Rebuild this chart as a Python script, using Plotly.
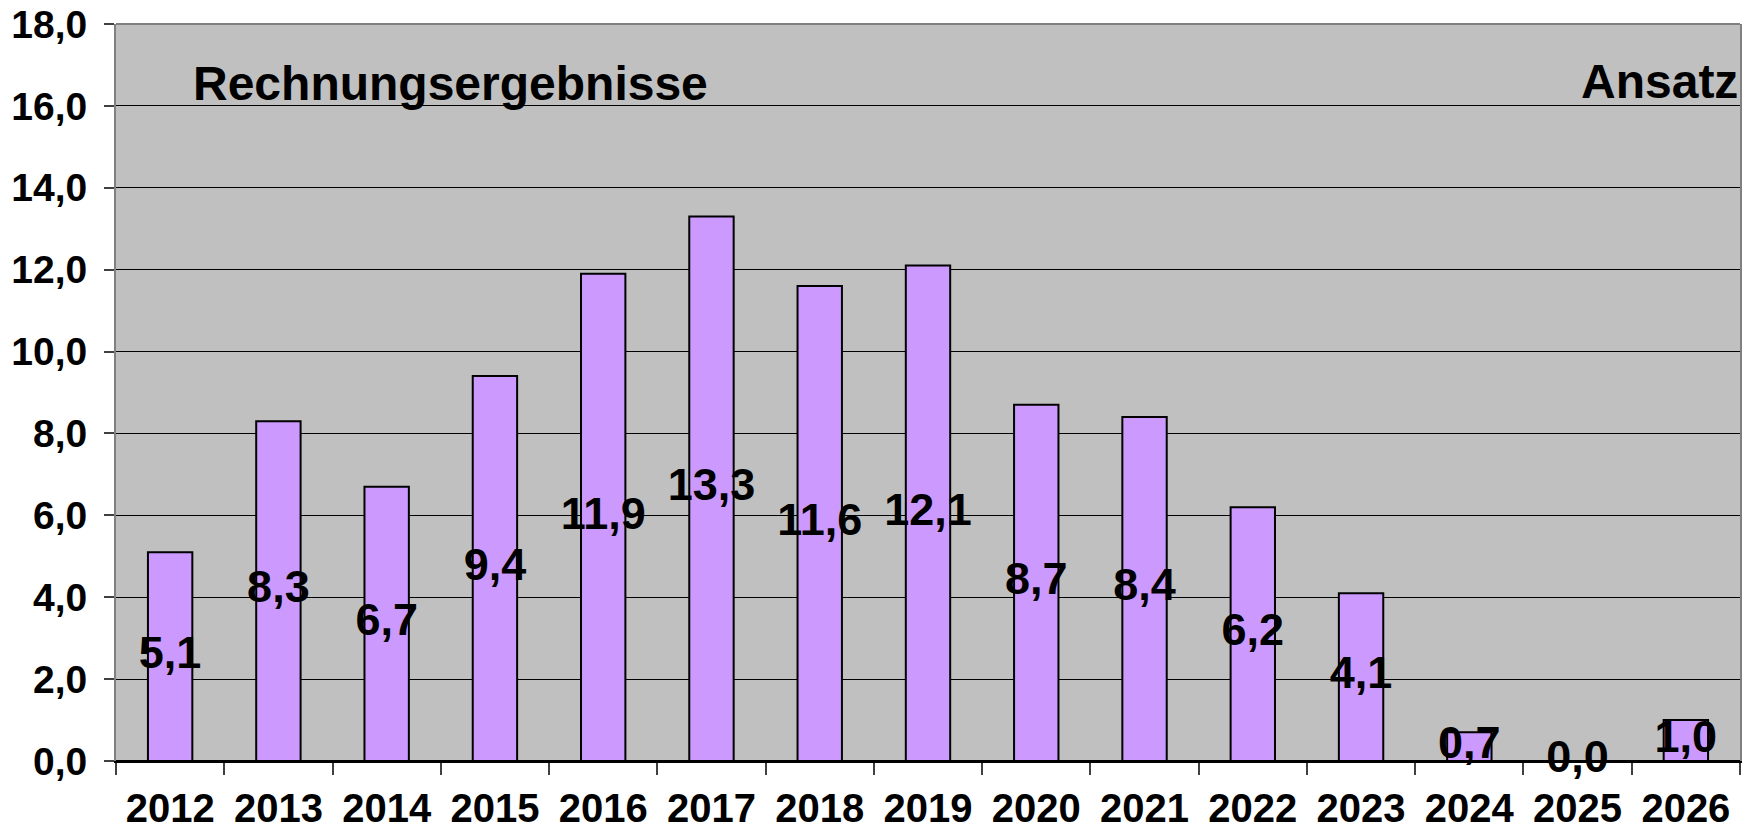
import plotly.graph_objects as go

years = ["2012", "2013", "2014", "2015", "2016", "2017", "2018", "2019",
         "2020", "2021", "2022", "2023", "2024", "2025", "2026"]
values = [5.1, 8.3, 6.7, 9.4, 11.9, 13.3, 11.6, 12.1, 8.7, 8.4, 6.2, 4.1, 0.7, 0.0, 1.0]
y_ticks = [0, 2, 4, 6, 8, 10, 12, 14, 16, 18]
label_left = "Rechnungsergebnisse"
label_right = "Ansatz"

FONT = "Liberation Sans, Arial, sans-serif"

fig = go.Figure()
fig.add_trace(go.Bar(
    x=years, y=values, width=0.41,
    marker=dict(color="#CC99FF", line=dict(color="black", width=2)),
    hoverinfo="x+y", showlegend=False,
))
fig.add_trace(go.Scatter(
    x=years, y=[v / 2 for v in values], mode="text",
    text=[f"{v:.1f}".replace(".", ",") for v in values],
    textposition="middle center",
    textfont=dict(family=FONT, size=45, color="black", weight="bold"),
    showlegend=False, hoverinfo="skip", cliponaxis=False,
))

fig.update_layout(
    width=1742, height=824,
    margin=dict(l=108, r=10, t=16, b=71),
    paper_bgcolor="white", plot_bgcolor="#C0C0C0",
    separators=",.",
    font=dict(family=FONT, color="black"),
)
fig.update_xaxes(
    type="category", range=[-0.5, len(years) - 0.5],
    tickson="boundaries", automargin=False,
    ticks="outside", ticklen=12, tickcolor="#404040", tickwidth=1.5,
    showgrid=False, showline=True, linecolor="black", linewidth=1.5,
    tickfont=dict(family=FONT, size=40, color="black", weight="bold"),
    ticklabelstandoff=11, ticklabeloverflow="allow",
)
fig.update_yaxes(
    range=[0, 18], tickvals=y_ticks, tickformat=".1f", automargin=False,
    ticks="outside", ticklen=10, tickcolor="#404040", tickwidth=1.5,
    showgrid=True, gridcolor="black", gridwidth=1,
    zeroline=True, zerolinecolor="black", zerolinewidth=1.5,
    showline=True, mirror=True, linecolor="#808080", linewidth=2,
    tickfont=dict(family=FONT, size=39, color="black", weight="bold"),
    ticklabelstandoff=9, ticklabeloverflow="allow",
)
fig.add_shape(type="line", xref="paper", yref="paper", x0=0, x1=1, y0=1, y1=1,
              line=dict(color="#808080", width=2))
fig.add_annotation(x=0.046, y=16.55, xref="paper", yref="y", text=label_left,
                   showarrow=False, xanchor="left", yanchor="middle",
                   font=dict(family=FONT, size=48, color="black", weight="bold"))
fig.add_annotation(x=1.0, y=16.6, xref="paper", yref="y", text=label_right,
                   showarrow=False, xanchor="right", yanchor="middle",
                   font=dict(family=FONT, size=48, color="black", weight="bold"))

fig.write_html("out.html")
